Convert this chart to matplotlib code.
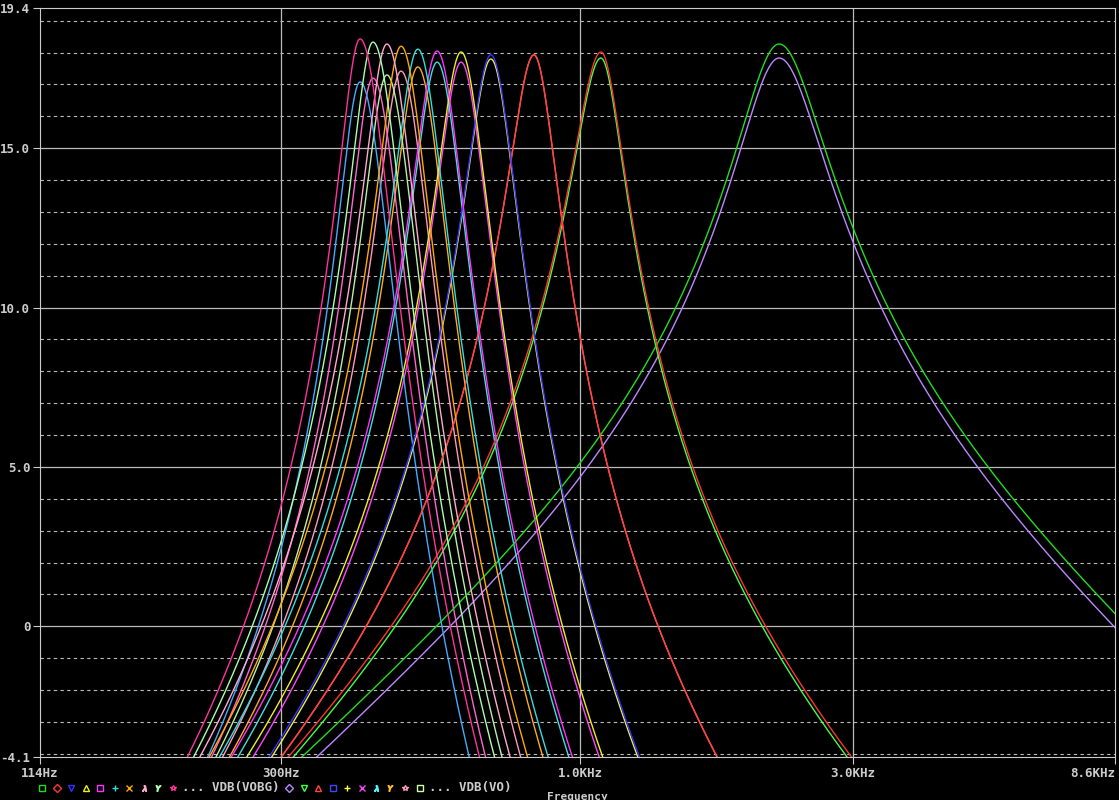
import numpy as np
import matplotlib
matplotlib.use("Agg")
import matplotlib.pyplot as plt

f0 = [2228, 1088, 831, 699, 620, 563, 521, 487, 460, 435, 413]
gain_vobg = [18.27, 18.02, 17.93, 17.93, 18.02, 18.05, 18.11, 18.2, 18.27, 18.33, 18.43]
gain_vo = [17.83, 17.83, 17.93, 17.8, 17.7, 17.7, 17.55, 17.42, 17.3, 17.2, 17.08]
q_left = [3.6, 5.4, 6.0, 6.2, 6.3, 6.4, 6.5, 6.6, 6.7, 6.85, 7.0]
a_left = [8.1, 8.9, 9.5, 10.0, 10.15, 10.3, 10.45, 10.6, 10.7, 10.85, 11.0]
q_right = [3.3, 6.5, 6.2, 5.5, 5.35, 5.2, 5.05, 4.9, 4.75, 4.6, 4.5]
a_right = [8.3, 9.3, 11.0, 13.0, 13.6, 14.2, 14.8, 15.4, 16.0, 16.5, 17.0]
colors_vobg = ['#22dd22', '#ff3333', '#ff4444', '#3333ff', '#eeee22', '#ff33ff',
               '#33dddd', '#ffaa00', '#ffaacc', '#aaffaa', '#ff3399']
colors_vo = ['#bb88ff', '#44ff44', '#ff5555', '#eeee44', '#ff44ff', '#44dddd',
             '#ffaa22', '#ff99bb', '#bbeeaa', '#ff66cc', '#44aaff']
legend_vobg = ['#22dd22', '#ff3333', '#3333ff', '#eeee22', '#ff33ff', '#33dddd',
               '#ffaa00', '#ffaacc', '#aaffaa', '#ff3399']
legend_vo = ['#bb88ff', '#44ff44', '#ff4444', '#4444ff', '#ffff44', '#ff44ff',
             '#44ffff', '#ffbb22', '#ff99bb', '#ccffaa']
yticks = [-4.1, 0, 5.0, 10.0, 15.0, 19.4]
ytick_labels = ['-4.1', '0', '5.0', '10.0', '15.0', '19.4']
xticks = [114, 300, 1000, 3000, 8600]
xtick_labels = ['114Hz', '300Hz', '1.0KHz', '3.0KHz', '8.6KHz']

fig = plt.figure(figsize=(11.19, 8.0), dpi=100, facecolor='black')
W, H = 1119, 800
ax = fig.add_axes([40/W, 1-757/H, 1075/W, 749/H], facecolor='black')
ax.set_xscale('log')
ax.set_xlim(114, 8600)
ax.set_ylim(-4.1, 19.4)

for y in range(-4, 20):
    if y in (0, 5, 10, 15):
        continue
    ax.axhline(y, color='#bbbbbb', lw=0.8, ls=(0, (3, 3)), zorder=1)
for y in (0, 5, 10, 15):
    ax.axhline(y, color='#bbbbbb', lw=0.9, zorder=1)
for x in (300, 1000, 3000):
    ax.axvline(x, color='#bbbbbb', lw=0.9, zorder=1)

f = np.logspace(np.log10(114), np.log10(8600), 3000)
def curve(fc, g, ql, al, qr, ar):
    u = f/fc - fc/f
    q = np.where(f < fc, ql, qr)
    a = np.where(f < fc, al, ar)
    return g - a*np.log10(1 + (q*u)**2)

for i in range(len(f0)):
    ax.plot(f, curve(f0[i], gain_vo[i], q_left[i], a_left[i], q_right[i], a_right[i]),
            color=colors_vo[i], lw=1, zorder=2)
    ax.plot(f, curve(f0[i], gain_vobg[i], q_left[i], a_left[i], q_right[i], a_right[i]),
            color=colors_vobg[i], lw=1, zorder=3)

ax.set_xticks(xticks)
ax.set_xticklabels(xtick_labels)
ax.xaxis.set_minor_locator(matplotlib.ticker.NullLocator())
ax.set_yticks(yticks)
ax.set_yticklabels(ytick_labels)
ax.tick_params(colors='#cccccc', labelsize=9, length=5, direction='out', pad=2)
for lab in ax.get_xticklabels() + ax.get_yticklabels():
    lab.set_family('DejaVu Sans Mono')
    lab.set_fontweight('bold')
xl = ax.get_xticklabels()
xl[-1].set_ha('right')
for s in ax.spines.values():
    s.set_color('#cccccc')

syms1 = ['s', 'D', 'v', '^', 's', '+', 'x', '$\\lambda$', '$Y$', '*']
syms2 = ['D', 'v', '^', 's', '+', 'x', '$\\lambda$', '$Y$', '*', 's']
yl = 1 - 788/H
x = 42
for m, c in zip(syms1, legend_vobg):
    fig.lines.append(matplotlib.lines.Line2D([x/W], [yl], marker=m, color=c, ms=4,
                     mfc='none', transform=fig.transFigure, ls='none'))
    x += 14.5
fig.text(182/W, yl, '... VDB(VOBG)', color='#cccccc', family='DejaVu Sans Mono',
         fontweight='bold', fontsize=9, va='center')
x = 289
for m, c in zip(syms2, legend_vo):
    fig.lines.append(matplotlib.lines.Line2D([x/W], [yl], marker=m, color=c, ms=4,
                     mfc='none', transform=fig.transFigure, ls='none'))
    x += 14.5
fig.text(429/W, yl, '... VDB(VO)', color='#cccccc', family='DejaVu Sans Mono',
         fontweight='bold', fontsize=9, va='center')
fig.text(577/W, 1-797/H, 'Frequency', color='#cccccc', family='DejaVu Sans Mono',
         fontweight='bold', fontsize=8, ha='center', va='center')

fig.savefig('out.png', dpi=100, facecolor='black')
